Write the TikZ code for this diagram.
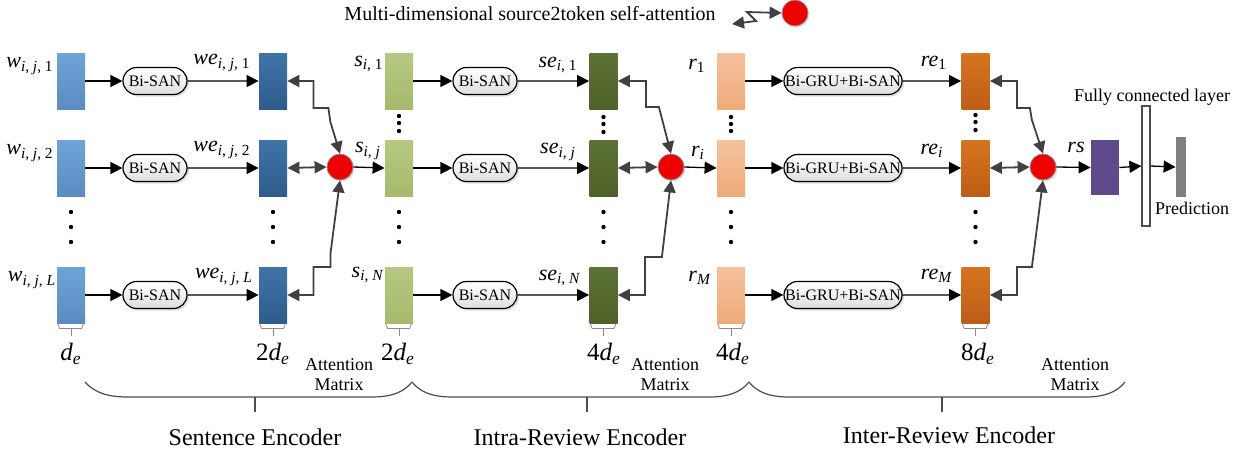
\documentclass[tikz,border=0pt]{standalone}
\usepackage{fontspec}
\setmainfont{Liberation Serif}
\usetikzlibrary{shapes.misc,arrows.meta,shadows,positioning}

\definecolor{wtop}{HTML}{6FA4D6}
\definecolor{wbot}{HTML}{5A8CC2}
\definecolor{wetop}{HTML}{3F74A8}
\definecolor{webot}{HTML}{2E5C8B}
\definecolor{stop}{HTML}{B5C982}
\definecolor{sbot}{HTML}{A5BB6B}
\definecolor{setop}{HTML}{5D7236}
\definecolor{sebot}{HTML}{4E6128}
\definecolor{rtop}{HTML}{F5C29D}
\definecolor{rbot}{HTML}{EEAB7A}
\definecolor{retop}{HTML}{D6751F}
\definecolor{rebot}{HTML}{BD5D17}
\definecolor{rsfill}{HTML}{5F4B8B}
\definecolor{attred}{HTML}{EE0000}

\newcommand{\sbl}[2]{\textit{#1}\textsubscript{#2}}

\tikzset{
  vec/.style={minimum width=14pt, minimum height=28pt, inner sep=0pt},
  wvec/.style={vec, top color=wtop, bottom color=wbot},
  wevec/.style={vec, top color=wetop, bottom color=webot},
  svec/.style={vec, top color=stop, bottom color=sbot},
  sevec/.style={vec, top color=setop, bottom color=sebot},
  rvec/.style={vec, top color=rtop, bottom color=rbot},
  revec/.style={vec, top color=retop, bottom color=rebot},
  san/.style={rounded rectangle, draw, line width=0.6pt, minimum width=36pt, minimum height=13.5pt,
    inner xsep=2pt, inner ysep=0pt, top color=white, bottom color=black!13,
    drop shadow={shadow xshift=1pt, shadow yshift=-1pt, fill=black!25}, font=\fontsize{8}{9}\selectfont},
  attn/.style={circle, fill=attred, draw=black!45, line width=0.4pt, minimum size=13pt, inner sep=0pt,
    drop shadow={shadow xshift=0.8pt, shadow yshift=-0.8pt, fill=black!25}},
  fw/.style={-{Triangle[length=6pt,width=6pt]}, line width=0.65pt},
  dfw/.style={{Triangle[length=6pt,width=6pt]}-{Triangle[length=6pt,width=6pt]}, line width=0.9pt, draw=black!75},
  lab/.style={inner sep=0pt, font=\fontsize{11}{13}\selectfont},
  dim/.style={inner sep=0pt, font=\fontsize{12.5}{14}\selectfont},
  small/.style={inner sep=0pt, align=center, font=\fontsize{9}{10}\selectfont},
  brk/.style={draw=black!45, line width=0.4pt},
  brace/.style={draw=black!70, line width=0.6pt}
}

\begin{document}
\begin{tikzpicture}[x=0.5pt, y=-0.5pt]
    \useasboundingbox (0,0) rectangle (1249,456);

    % Legend
    \node [inner sep=0pt, font=\fontsize{10}{12}\selectfont] (legend) at (530,14) {Multi-dimensional source2token self-attention};
    \node [attn] (legattn) at (795,13) {};
    \coordinate (legtip) at (732,24);
    \draw [dfw] (legtip) -- (756,21) -- (747,12) -- (legattn.west);

    % Sentence encoder
    \node [wvec] (w1) at (71,81) {};
    \node [wvec] (w2) at (71,168) {};
    \node [wvec] (wL) at (71,295) {};
    \node [lab] (lw1) at (30,66) {\sbl{w}{\textit{i}, \textit{j}, 1}};
    \node [lab] (lw2) at (30,153) {\sbl{w}{\textit{i}, \textit{j}, 2}};
    \node [lab] (lwL) at (32,280) {\sbl{w}{\textit{i}, \textit{j}, \textit{L}}};
    \node [san] (san1) at (155,81) {Bi-SAN};
    \node [san] (san2) at (155,168) {Bi-SAN};
    \node [san] (sanL) at (155,295) {Bi-SAN};
    \node [wevec] (we1) at (273,81) {};
    \node [wevec] (we2) at (273,168) {};
    \node [wevec] (weL) at (273,295) {};
    \node [lab] (lwe1) at (222,63) {\sbl{we}{\textit{i}, \textit{j}, 1}};
    \node [lab] (lwe2) at (222,150) {\sbl{we}{\textit{i}, \textit{j}, 2}};
    \node [lab] (lweL) at (224,277) {\sbl{we}{\textit{i}, \textit{j}, \textit{L}}};
    \draw [fw] (w1) -- (san1);
    \draw [fw] (w2) -- (san2);
    \draw [fw] (wL) -- (sanL);
    \draw [fw] (san1) -- (we1);
    \draw [fw] (san2) -- (we2);
    \draw [fw] (sanL) -- (weL);
    \node [attn] (att1) at (340,167) {};
    \draw [dfw] (we1.east) -- ++(26,0) -- ++(0,27) -- ++(15,0) -- ++(2,14) -- (att1.north);
    \draw [dfw] (we2.east) -- (att1.west);
    \draw [dfw] (weL.east) -- ++(26,0) -- ++(0,-28) -- ++(17,0) -- ++(0,-13) -- (att1.south);
    \fill (71,212) circle (1.1pt) (71,227) circle (1.1pt) (71,242) circle (1.1pt);
    \fill (273,212) circle (1.1pt) (273,227) circle (1.1pt) (273,242) circle (1.1pt);

    % Intra-review encoder
    \node [svec] (s1) at (399,81) {};
    \node [svec] (sj) at (399,168) {};
    \node [svec] (sN) at (399,295) {};
    \node [lab] (ls1) at (369,64) {\sbl{s}{\textit{i}, 1}};
    \node [lab] (lsj) at (368,151) {\sbl{s}{\textit{i}, \textit{j}}};
    \node [lab] (lsN) at (368,275) {\sbl{s}{\textit{i}, \textit{N}}};
    \draw [fw] (att1.east) -- (sj.west);
    \node [san] (san4) at (485,81) {Bi-SAN};
    \node [san] (san5) at (485,168) {Bi-SAN};
    \node [san] (san6) at (485,295) {Bi-SAN};
    \node [sevec] (se1) at (603.5,81) {};
    \node [sevec] (sej) at (603.5,168) {};
    \node [sevec] (seN) at (603.5,295) {};
    \node [lab] (lse1) at (558,65) {\sbl{se}{\textit{i}, 1}};
    \node [lab] (lsej) at (558,152) {\sbl{se}{\textit{i}, \textit{j}}};
    \node [lab] (lseN) at (560,278) {\sbl{se}{\textit{i}, \textit{N}}};
    \draw [fw] (s1) -- (san4);
    \draw [fw] (sj) -- (san5);
    \draw [fw] (sN) -- (san6);
    \draw [fw] (san4) -- (se1);
    \draw [fw] (san5) -- (sej);
    \draw [fw] (san6) -- (seN);
    \node [attn] (att2) at (671,167) {};
    \draw [dfw] (se1.east) -- ++(28,0) -- ++(0,26) -- ++(13,0) -- (att2.north);
    \draw [dfw] (sej.east) -- (att2.west);
    \draw [dfw] (seN.east) -- ++(27,0) -- ++(0,-38) -- ++(17,0) -- (att2.south);
    \fill (399,116) circle (1.1pt) (399,123) circle (1.1pt) (399,131) circle (1.1pt);
    \fill (399,212) circle (1.1pt) (399,227) circle (1.1pt) (399,242) circle (1.1pt);
    \fill (603.5,117) circle (1.1pt) (603.5,124) circle (1.1pt) (603.5,132) circle (1.1pt);
    \fill (603.5,212) circle (1.1pt) (603.5,227) circle (1.1pt) (603.5,242) circle (1.1pt);

    % Inter-review encoder
    \node [rvec] (r1) at (731,81) {};
    \node [rvec] (ri) at (731,168) {};
    \node [rvec] (rM) at (731,295) {};
    \node [lab] (lr1) at (697,66) {\sbl{r}{1}};
    \node [lab] (lri) at (698,153) {\sbl{r}{\textit{i}}};
    \node [lab] (lrM) at (700,278) {\sbl{r}{\textit{M}}};
    \draw [fw] (att2.east) -- (ri.west);
    \node [san, minimum width=63pt] (gru1) at (843,81) {Bi-GRU+Bi-SAN};
    \node [san, minimum width=63pt] (grui) at (843,168) {Bi-GRU+Bi-SAN};
    \node [san, minimum width=63pt] (gruM) at (843,295) {Bi-GRU+Bi-SAN};
    \node [revec] (re1) at (975.5,81) {};
    \node [revec] (rei) at (975.5,168) {};
    \node [revec] (reM) at (975.5,295) {};
    \node [lab] (lre1) at (934,63) {\sbl{re}{1}};
    \node [lab] (lrei) at (932,151) {\sbl{re}{\textit{i}}};
    \node [lab] (lreM) at (937,276) {\sbl{re}{\textit{M}}};
    \draw [fw] (r1) -- (gru1);
    \draw [fw] (ri) -- (grui);
    \draw [fw] (rM) -- (gruM);
    \draw [fw] (gru1) -- (re1);
    \draw [fw] (grui) -- (rei);
    \draw [fw] (gruM) -- (reM);
    \node [attn] (att3) at (1043,167) {};
    \draw [dfw] (re1.east) -- ++(27,0) -- ++(0,27) -- ++(13,0) -- ++(2,12) -- (att3.north);
    \draw [dfw] (rei.east) -- (att3.west);
    \draw [dfw] (reM.east) -- ++(27,0) -- ++(0,-28) -- ++(15,0) -- (att3.south);
    \fill (731,117) circle (1.1pt) (731,124) circle (1.1pt) (731,131) circle (1.1pt);
    \fill (731,212) circle (1.1pt) (731,227) circle (1.1pt) (731,242) circle (1.1pt);
    \fill (975.5,115) circle (1.1pt) (975.5,122) circle (1.1pt) (975.5,130) circle (1.1pt);
    \fill (975.5,212) circle (1.1pt) (975.5,227) circle (1.1pt) (975.5,242) circle (1.1pt);

    % Output
    \node [vec, minimum height=27.5pt, fill=rsfill] (rs) at (1105,167.5) {};
    \node [lab] (lrs) at (1076,147) {\textit{rs}};
    \node [draw=black!70, fill=white, line width=0.6pt, minimum width=4pt, minimum height=60pt, inner sep=0pt] (fc) at (1146,166) {};
    \node [fill=black!50, minimum width=5pt, minimum height=30pt, inner sep=0pt] (pred) at (1181,167) {};
    \node [small] (lfc) at (1152,97) {Fully connected layer};
    \node [small] (lpred) at (1192,208) {Prediction};
    \draw [fw] (att3.east) -- (rs.west);
    \draw [fw] (rs.east) -- (fc.west);
    \draw [fw] (fc.east) -- (pred.west);

    % Widths
    \draw [brk] (wL.south west) ++(1,0) -- ++(2,5) -- ++(22,0) -- ++(2,-5);
    \draw [brk] (wL.south) ++(0,5) -- ++(0,8);
    \draw [brk] (weL.south west) ++(1,0) -- ++(2,5) -- ++(22,0) -- ++(2,-5);
    \draw [brk] (weL.south) ++(0,5) -- ++(0,8);
    \draw [brk] (sN.south west) ++(1,0) -- ++(2,5) -- ++(22,0) -- ++(2,-5);
    \draw [brk] (sN.south) ++(0,5) -- ++(0,8);
    \draw [brk] (seN.south west) ++(1,0) -- ++(2,5) -- ++(22,0) -- ++(2,-5);
    \draw [brk] (seN.south) ++(0,5) -- ++(0,8);
    \draw [brk] (rM.south west) ++(1,0) -- ++(2,5) -- ++(22,0) -- ++(2,-5);
    \draw [brk] (rM.south) ++(0,5) -- ++(0,8);
    \draw [brk] (reM.south west) ++(1,0) -- ++(2,5) -- ++(22,0) -- ++(2,-5);
    \draw [brk] (reM.south) ++(0,5) -- ++(0,8);
    \node [dim] (dw) at (71,354) {\sbl{d}{\textit{e}}};
    \node [dim] (dwe) at (273,354) {2\sbl{d}{\textit{e}}};
    \node [dim] (ds) at (398,354) {2\sbl{d}{\textit{e}}};
    \node [dim] (dse) at (604,354) {4\sbl{d}{\textit{e}}};
    \node [dim] (dr) at (733,354) {4\sbl{d}{\textit{e}}};
    \node [dim] (dre) at (978,354) {8\sbl{d}{\textit{e}}};
    \node [small] (am1) at (339,375) {Attention\\Matrix};
    \node [small] (am2) at (665,375) {Attention\\Matrix};
    \node [small] (am3) at (1075,375) {Attention\\Matrix};

    % Braces
    \draw [brace] (85,382) .. controls (95,393) and (108,397) .. (128,397) -- (372,397) .. controls (392,397) and (404,392) .. (412,382);
    \draw [brace] (412,382) .. controls (420,392) and (432,397) .. (452,397) -- (709,397) .. controls (729,397) and (741,392) .. (749,382);
    \draw [brace] (749,382) .. controls (757,392) and (769,397) .. (789,397) -- (1085,397) .. controls (1105,397) and (1117,392) .. (1125,382);
    \draw [brace] (255,397) -- (255,412);
    \draw [brace] (587,397) -- (587,412);
    \draw [brace] (942,397) -- (942,412);
    \node [inner sep=0pt, font=\fontsize{12}{14}\selectfont] (enc1) at (255,437) {Sentence Encoder};
    \node [inner sep=0pt, font=\fontsize{12}{14}\selectfont] (enc2) at (580,437) {Intra-Review Encoder};
    \node [inner sep=0pt, font=\fontsize{12}{14}\selectfont] (enc3) at (949,435) {Inter-Review Encoder};
\end{tikzpicture}
\end{document}
